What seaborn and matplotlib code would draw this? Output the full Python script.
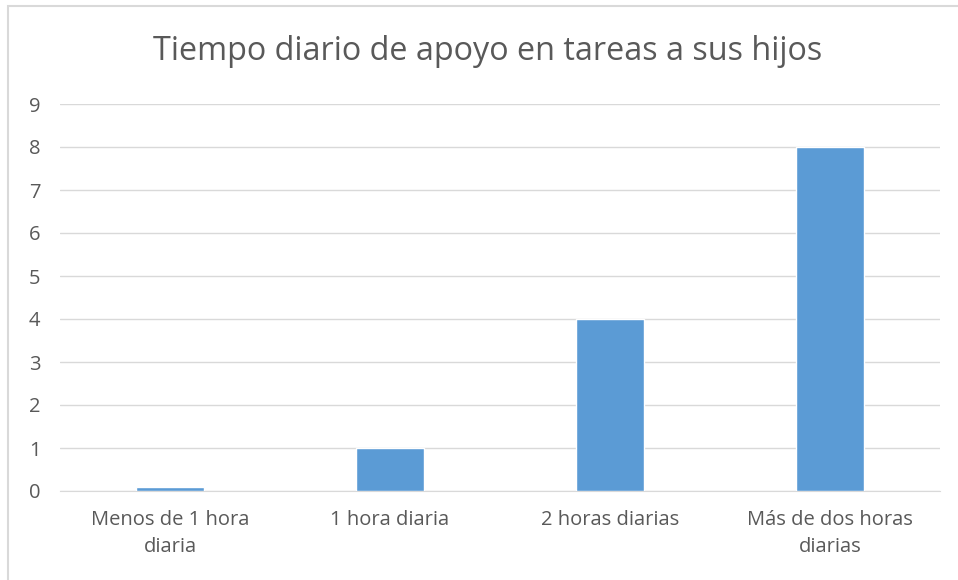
import seaborn as sns
import matplotlib.pyplot as plt
from matplotlib.patches import Rectangle

# data
categories = ["Menos de 1 hora\ndiaria", "1 hora diaria", "2 horas diarias", "Más de dos horas\ndiarias"]
values = [0.1, 1, 4, 8]
title = "Tiempo diario de apoyo en tareas a sus hijos"

sns.set_style("white")
plt.rcParams['font.family'] = ['Open Sans', 'DejaVu Sans']

fig = plt.figure(figsize=(9.58, 5.8), dpi=100)
ax = fig.add_axes([60 / 958, 1 - 491 / 580, 880 / 958, 387 / 580])

sns.barplot(x=categories, y=values, color="#5B9BD5", saturation=1, width=0.31, ax=ax, zorder=3)

ax.set_ylim(0, 9)
ax.set_yticks(range(0, 10))
ax.set_xlim(-0.5, 3.5)
ax.grid(axis='y', color='#D9D9D9', linewidth=1, zorder=0)
for s in ax.spines.values():
    s.set_visible(False)
ax.spines['bottom'].set_visible(True)
ax.spines['bottom'].set_color('#D9D9D9')
ax.tick_params(axis='both', length=0, labelsize=14.5, colors='#595959')
ax.tick_params(axis='y', pad=14)
ax.tick_params(axis='x', pad=14)
for lbl in ax.get_xticklabels():
    lbl.set_linespacing(1.45)

fig.text(488 / 958, 1 - 52 / 580, title, ha='center', va='center', fontsize=23.3, color='#595959')

# outer chart border
fig.patches.append(Rectangle((8 / 958, -0.05), 1.1, 1 - 6 / 580 + 0.05, transform=fig.transFigure,
                             fill=False, edgecolor='#D9D9D9', linewidth=1.5))

fig.savefig("out.png", dpi=100)
